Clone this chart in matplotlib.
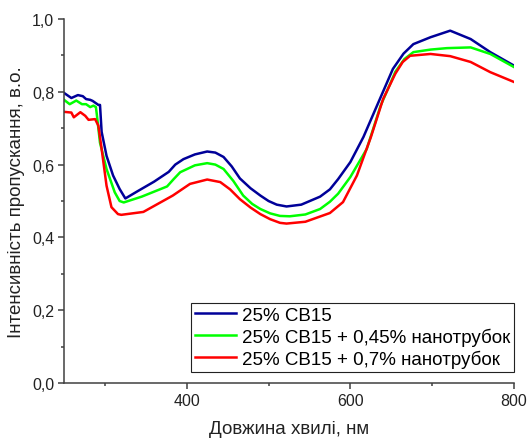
import numpy as np
import matplotlib
matplotlib.use('Agg')
import matplotlib.pyplot as plt
from matplotlib.ticker import MultipleLocator, FuncFormatter

plt.rcParams['font.family'] = ['Liberation Sans', 'DejaVu Sans']

# 25% CB15
wl_blue = [250, 259, 267, 273, 277, 282, 285, 292, 294, 296, 302, 310, 318, 325,
           340, 360, 378, 386, 396, 410, 425, 435, 445, 455, 465, 478, 490, 500,
           510, 522, 540, 563, 575, 585, 600, 616, 636, 652, 665, 677, 698, 722,
           747, 771, 800]
t_blue = [0.797, 0.783, 0.791, 0.788, 0.780, 0.778, 0.775, 0.764, 0.764, 0.69,
          0.624, 0.57, 0.533, 0.507, 0.527, 0.553, 0.580, 0.600, 0.615, 0.628,
          0.636, 0.633, 0.621, 0.595, 0.562, 0.535, 0.515, 0.500, 0.490, 0.485,
          0.49, 0.512, 0.532, 0.56, 0.607, 0.676, 0.78, 0.863, 0.905, 0.931,
          0.95, 0.968, 0.945, 0.909, 0.872]

# 25% CB15 + 0,45% nanotubes
wl_green = [250, 257, 265, 272, 277, 282, 286, 289, 290, 294, 302, 312, 318, 323,
            345, 376, 384, 392, 410, 425, 435, 445, 457, 469, 480, 490, 502, 514,
            526, 545, 563, 575, 585, 600, 620, 637, 655, 666, 677, 698, 718, 747,
            771, 800]
t_green = [0.778, 0.766, 0.776, 0.766, 0.766, 0.758, 0.762, 0.758, 0.74, 0.66,
           0.588, 0.524, 0.50, 0.496, 0.512, 0.540, 0.560, 0.579, 0.598, 0.604,
           0.600, 0.588, 0.555, 0.515, 0.492, 0.478, 0.466, 0.459, 0.458, 0.463,
           0.478, 0.498, 0.52, 0.566, 0.643, 0.762, 0.855, 0.890, 0.909, 0.916,
           0.92, 0.922, 0.904, 0.868]

# 25% CB15 + 0,7% nanotubes
wl_red = [250, 259, 262, 270, 276, 280, 288, 292, 296, 302, 308, 316, 320, 347,
          383, 404, 425, 441, 453, 465, 478, 490, 502, 514, 522, 545, 575, 591,
          608, 625, 640, 655, 664, 673, 698, 722, 747, 771, 800]
t_red = [0.745, 0.743, 0.73, 0.744, 0.734, 0.723, 0.725, 0.707, 0.643, 0.542,
         0.483, 0.464, 0.462, 0.47, 0.515, 0.547, 0.559, 0.552, 0.532, 0.505,
         0.482, 0.464, 0.450, 0.44, 0.438, 0.443, 0.467, 0.497, 0.57, 0.675,
         0.78, 0.85, 0.882, 0.899, 0.904, 0.898, 0.882, 0.854, 0.827]

labels = ['25% CB15', '25% CB15 + 0,45% нанотрубок', '25% CB15 + 0,7% нанотрубок']

fig = plt.figure(figsize=(5.28, 4.39), dpi=100)
ax = fig.add_axes([0.1212, 0.1253, 0.8523, 0.8291])

ax.plot(wl_blue, t_blue, color='#000099', lw=1.8, label=labels[0], solid_joinstyle='round')
ax.plot(wl_green, t_green, color='#00ff00', lw=1.8, label=labels[1], solid_joinstyle='round')
ax.plot(wl_red, t_red, color='#ff0000', lw=1.8, label=labels[2], solid_joinstyle='round')

ax.set_xlim(250, 800)
ax.set_ylim(0, 1.0)
ax.set_xticks([400, 600, 800])
ax.xaxis.set_minor_locator(MultipleLocator(100))
ax.yaxis.set_major_locator(MultipleLocator(0.2))
ax.yaxis.set_minor_locator(MultipleLocator(0.1))
ax.yaxis.set_major_formatter(FuncFormatter(lambda v, p: ('%.1f' % v).replace('.', ',')))

for s in ['top', 'right']:
    ax.spines[s].set_visible(False)
for s in ['left', 'bottom']:
    ax.spines[s].set_linewidth(1.1)
    ax.spines[s].set_color('#404040')
ax.tick_params(which='major', direction='out', length=4, width=1.1, color='#404040',
               labelsize=11.5, labelcolor='#222222', pad=3)
ax.tick_params(which='minor', direction='out', length=2.5, width=1.1, color='#404040')

ax.set_xlabel('Довжина хвилі, нм', fontsize=13.5, color='#222222', labelpad=9)
ax.set_ylabel('Інтенсивність пропускання, в.о.', fontsize=13.5, color='#222222', labelpad=5)

leg = ax.legend(loc='lower right', bbox_to_anchor=(1.0, 0.031), borderaxespad=0,
                fontsize=13.5, fancybox=False, framealpha=1, edgecolor='#222222',
                handlelength=2.2, handletextpad=0.3, labelspacing=0.2,
                borderpad=0.2)
leg.get_frame().set_linewidth(0.8)

fig.savefig('out.png', dpi=100)
